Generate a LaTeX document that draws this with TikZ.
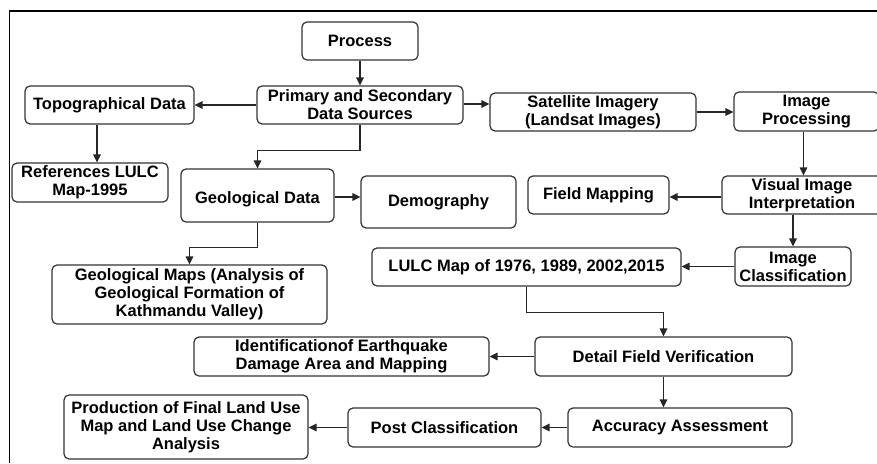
\documentclass[tikz,border=0pt]{standalone}
\usepackage{fontspec}
\setmainfont{Liberation Sans}
\usetikzlibrary{arrows.meta,calc}
\begin{document}
\begin{tikzpicture}[x=1pt,y=-1pt,
  box/.style={draw=black!80, line width=1.2pt, rounded corners=5pt, align=center,
    inner sep=1pt, font=\fontsize{16.5}{18}\selectfont\bfseries},
  arr/.style={draw=black!85, line width=1.3pt, -{Triangle[length=8pt,width=7.5pt]}},
  ln/.style={draw=black!85, line width=1.3pt}]
\useasboundingbox (0,0) rectangle (877,463);
\fill[white] (0,0) rectangle (877,463);
\draw[line width=1.5pt] (877,11) -- (9.5,11) -- (9.5,463);
% nodes
\node[box, minimum width=116pt, minimum height=38pt] (process) at (360,41) {Process};
\node[box, minimum width=206pt, minimum height=38pt] (primary) at (360,105) {Primary and Secondary\\Data Sources};
\node[box, minimum width=169pt, minimum height=38pt] (topo) at (109.5,105) {Topographical Data};
\node[box, minimum width=206pt, minimum height=38pt] (sat) at (593,112) {Satellite Imagery\\(Landsat Images)};
\node[box, minimum width=145pt, minimum height=39pt] (improc) at (806.5,111.5) {Image\\Processing};
\node[box, minimum width=156pt, minimum height=39pt] (refs) at (90,182.5) {References LULC\\Map-1995};
\node[box, minimum width=153pt, minimum height=53pt] (geo) at (257.5,195.5) {\raisebox{-4pt}[\height][\depth]{Geological Data}};
\node[box, minimum width=155pt, minimum height=52pt] (demo) at (438.5,202) {Demography};
\node[box, minimum width=141pt, minimum height=38pt] (field) at (598.5,195) {Field Mapping};
\node[box, minimum width=160pt, minimum height=38pt] (visual) at (802,195) {Visual Image\\Interpretation};
\node[box, minimum width=116pt, minimum height=39pt] (imclass) at (793,266.5) {Image\\Classification};
\node[box, minimum width=309pt, minimum height=38pt] (lulc) at (526.5,267) {LULC Map of 1976, 1989, 2002,2015};
\node[box, minimum width=275pt, minimum height=59pt] (geomaps) at (189.5,294.5) {Geological Maps (Analysis of\\Geological Formation of\\Kathmandu Valley)};
\node[box, minimum width=295pt, minimum height=39pt] (ident) at (341.5,356.5) {Identificationof Earthquake\\Damage Area and Mapping};
\node[box, minimum width=257pt, minimum height=39pt] (detail) at (663.5,356.5) {Detail Field Verification};
\node[box, minimum width=224pt, minimum height=39pt] (accuracy) at (680,427.5) {Accuracy Assessment};
\node[box, minimum width=193pt, minimum height=39pt] (post) at (444.5,427.5) {Post Classification};
\node[box, minimum width=244pt, minimum height=64pt] (prod) at (186,427) {Production of Final Land Use\\Map and Land Use Change\\Analysis};
% connectors
\draw[arr] (process.south) -- (primary.north);
\draw[arr] (primary.west) -- (topo.east);
\draw[arr] ([yshift=1pt]primary.east) -- ([yshift=1pt]primary.east -| sat.west);
\draw[arr] (sat.east) -- (sat.east -| improc.west);
\draw[arr] ([xshift=-12.5pt]topo.south) -- ([xshift=-12.5pt]topo.south |- refs.north);
\draw[arr] (primary.south) -- ++(0,26) -| (geo.north);
\draw[arr] ([yshift=-1.5pt]geo.east) -- ([yshift=-1.5pt]geo.east -| demo.west);
\draw[arr] ([xshift=-3pt]improc.south) -- ([xshift=-3pt]improc.south |- visual.north);
\draw[arr] ([yshift=-2pt]visual.west) -- ([yshift=-2pt]visual.west -| field.east);
\draw[arr] (imclass.north |- visual.south) -- (imclass.north);
\draw[arr] (imclass.west) -- (imclass.west -| lulc.east);
\draw[arr] (geo.south) -- ++(0,25) -| (geomaps.north);
\draw[arr] (lulc.south) -- ++(0,26) -| (detail.north);
\draw[arr] (detail.west) -- (ident.east);
\draw[arr] (detail.south) -- (detail.south |- accuracy.north);
\draw[arr] (accuracy.west) -- (post.east);
\draw[arr] (post.west) -- (post.west -| prod.east);
\end{tikzpicture}
\end{document}
